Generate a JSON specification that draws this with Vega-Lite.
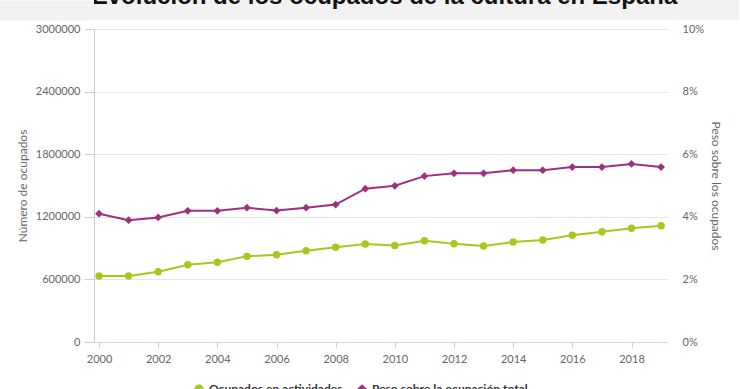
{
  "$schema": "https://vega.github.io/schema/vega-lite/v6.json",
  "padding": 0,
  "spacing": 3,
  "background": "white",
  "config": {
    "view": {"stroke": null},
    "font": "Lato",
    "axis": {"labelFont": "Lato", "labelFontSize": 11, "labelColor": "#666666", "titleFont": "Lato", "titleFontSize": 12, "titleColor": "#666666", "titleFontWeight": "normal"}
  },
  "datasets": {
    "d": [
      {"anio": 2000, "serie": "Ocupados en actividades", "valor": 632000},
      {"anio": 2001, "serie": "Ocupados en actividades", "valor": 632000},
      {"anio": 2002, "serie": "Ocupados en actividades", "valor": 674000},
      {"anio": 2003, "serie": "Ocupados en actividades", "valor": 741000},
      {"anio": 2004, "serie": "Ocupados en actividades", "valor": 764000},
      {"anio": 2005, "serie": "Ocupados en actividades", "valor": 821000},
      {"anio": 2006, "serie": "Ocupados en actividades", "valor": 837000},
      {"anio": 2007, "serie": "Ocupados en actividades", "valor": 875000},
      {"anio": 2008, "serie": "Ocupados en actividades", "valor": 908000},
      {"anio": 2009, "serie": "Ocupados en actividades", "valor": 939000},
      {"anio": 2010, "serie": "Ocupados en actividades", "valor": 926000},
      {"anio": 2011, "serie": "Ocupados en actividades", "valor": 971000},
      {"anio": 2012, "serie": "Ocupados en actividades", "valor": 942000},
      {"anio": 2013, "serie": "Ocupados en actividades", "valor": 920000},
      {"anio": 2014, "serie": "Ocupados en actividades", "valor": 958000},
      {"anio": 2015, "serie": "Ocupados en actividades", "valor": 978000},
      {"anio": 2016, "serie": "Ocupados en actividades", "valor": 1023000},
      {"anio": 2017, "serie": "Ocupados en actividades", "valor": 1057000},
      {"anio": 2018, "serie": "Ocupados en actividades", "valor": 1090000},
      {"anio": 2019, "serie": "Ocupados en actividades", "valor": 1115000},
      {"anio": 2000, "serie": "Peso sobre la ocupación total", "valor": 0.0410},
      {"anio": 2001, "serie": "Peso sobre la ocupación total", "valor": 0.0389},
      {"anio": 2002, "serie": "Peso sobre la ocupación total", "valor": 0.0398},
      {"anio": 2003, "serie": "Peso sobre la ocupación total", "valor": 0.0419},
      {"anio": 2004, "serie": "Peso sobre la ocupación total", "valor": 0.0419},
      {"anio": 2005, "serie": "Peso sobre la ocupación total", "valor": 0.0429},
      {"anio": 2006, "serie": "Peso sobre la ocupación total", "valor": 0.0420},
      {"anio": 2007, "serie": "Peso sobre la ocupación total", "valor": 0.0429},
      {"anio": 2008, "serie": "Peso sobre la ocupación total", "valor": 0.0439},
      {"anio": 2009, "serie": "Peso sobre la ocupación total", "valor": 0.0490},
      {"anio": 2010, "serie": "Peso sobre la ocupación total", "valor": 0.0499},
      {"anio": 2011, "serie": "Peso sobre la ocupación total", "valor": 0.0530},
      {"anio": 2012, "serie": "Peso sobre la ocupación total", "valor": 0.0539},
      {"anio": 2013, "serie": "Peso sobre la ocupación total", "valor": 0.0539},
      {"anio": 2014, "serie": "Peso sobre la ocupación total", "valor": 0.0549},
      {"anio": 2015, "serie": "Peso sobre la ocupación total", "valor": 0.0549},
      {"anio": 2016, "serie": "Peso sobre la ocupación total", "valor": 0.0559},
      {"anio": 2017, "serie": "Peso sobre la ocupación total", "valor": 0.0559},
      {"anio": 2018, "serie": "Peso sobre la ocupación total", "valor": 0.0569},
      {"anio": 2019, "serie": "Peso sobre la ocupación total", "valor": 0.0559}
    ]
  },
  "vconcat": [
    {
      "width": 645,
      "height": 20,
      "data": {"values": [{"t": "Evolución de los ocupados de la cultura en España"}]},
      "view": {"fill": "#f2f2f2", "stroke": null},
      "mark": {"type": "text", "font": "Liberation Sans", "fontSize": 24, "fontWeight": "bold", "color": "#111111", "baseline": "alphabetic", "dy": -16, "dx": -32, "clip": true},
      "encoding": {
        "text": {"field": "t"},
        "y": {"datum": 0, "type": "quantitative", "scale": {"domain": [0, 1]},
              "axis": {"domainWidth": 95, "domainColor": "#f2f2f2", "domainCap": "butt", "offset": 47.5, "labels": false, "ticks": false, "grid": false, "title": null}}
      }
    },
    {
      "width": 573,
      "height": 313,
      "data": {"name": "d"},
      "encoding": {
        "x": {
          "field": "anio", "type": "quantitative",
          "scale": {"domain": [1999.83, 2019.2], "nice": false, "zero": false},
          "axis": {"values": [2000, 2002, 2004, 2006, 2008, 2010, 2012, 2014, 2016, 2018], "format": "d", "title": null, "grid": false, "domainColor": "#ccd6eb", "tickColor": "#ccd6eb", "tickSize": 6, "labelPadding": 5}
        },
        "color": {
          "field": "serie", "type": "nominal",
          "scale": {"domain": ["Ocupados en actividades", "Peso sobre la ocupación total"], "range": ["#a8c71e", "#a02f80"]},
          "legend": {"orient": "bottom", "direction": "horizontal", "title": null, "labelFont": "Lato", "labelFontSize": 12, "labelFontWeight": "bold", "labelColor": "#333333", "symbolSize": 60, "padding": 99, "offset": -80, "columnPadding": 12}
        }
      },
      "layer": [
        {
          "transform": [{"filter": "datum.serie === 'Ocupados en actividades'"}],
          "encoding": {
            "y": {
              "field": "valor", "type": "quantitative",
              "scale": {"domain": [0, 3000000], "nice": false},
              "axis": {"values": [0, 600000, 1200000, 1800000, 2400000, 3000000], "format": "d", "title": [" ", "Número de ocupados"], "titleLineHeight": 16, "grid": true, "gridColor": "#e6e6e6", "domainColor": "#cccccc", "tickColor": "#cccccc", "tickSize": 10, "labelPadding": 4, "titlePadding": 6}
            }
          },
          "layer": [
            {"mark": {"type": "line", "strokeWidth": 2}},
            {"mark": {"type": "point", "filled": true, "size": 55, "opacity": 1},
             "encoding": {"shape": {"field": "serie", "type": "nominal", "scale": {"domain": ["Ocupados en actividades", "Peso sobre la ocupación total"], "range": ["circle", "diamond"]}, "legend": {"orient": "bottom", "direction": "horizontal", "title": null}}}}
          ]
        },
        {
          "transform": [{"filter": "datum.serie === 'Peso sobre la ocupación total'"}],
          "encoding": {
            "y": {
              "field": "valor", "type": "quantitative",
              "scale": {"domain": [0, 0.1], "nice": false},
              "axis": {"orient": "right", "values": [0, 0.02, 0.04, 0.06, 0.08, 0.1], "format": ".0%", "title": "Peso sobre los ocupados", "grid": false, "domain": false, "ticks": false, "labelPadding": 15, "titlePadding": 5}
            }
          },
          "layer": [
            {"mark": {"type": "line", "strokeWidth": 2}},
            {"mark": {"type": "point", "filled": true, "size": 60, "opacity": 1},
             "encoding": {"shape": {"field": "serie", "type": "nominal", "scale": {"domain": ["Ocupados en actividades", "Peso sobre la ocupación total"], "range": ["circle", "diamond"]}, "legend": {"orient": "bottom", "direction": "horizontal", "title": null}}}}
          ]
        }
      ],
      "resolve": {"scale": {"y": "independent"}}
    }
  ]
}
